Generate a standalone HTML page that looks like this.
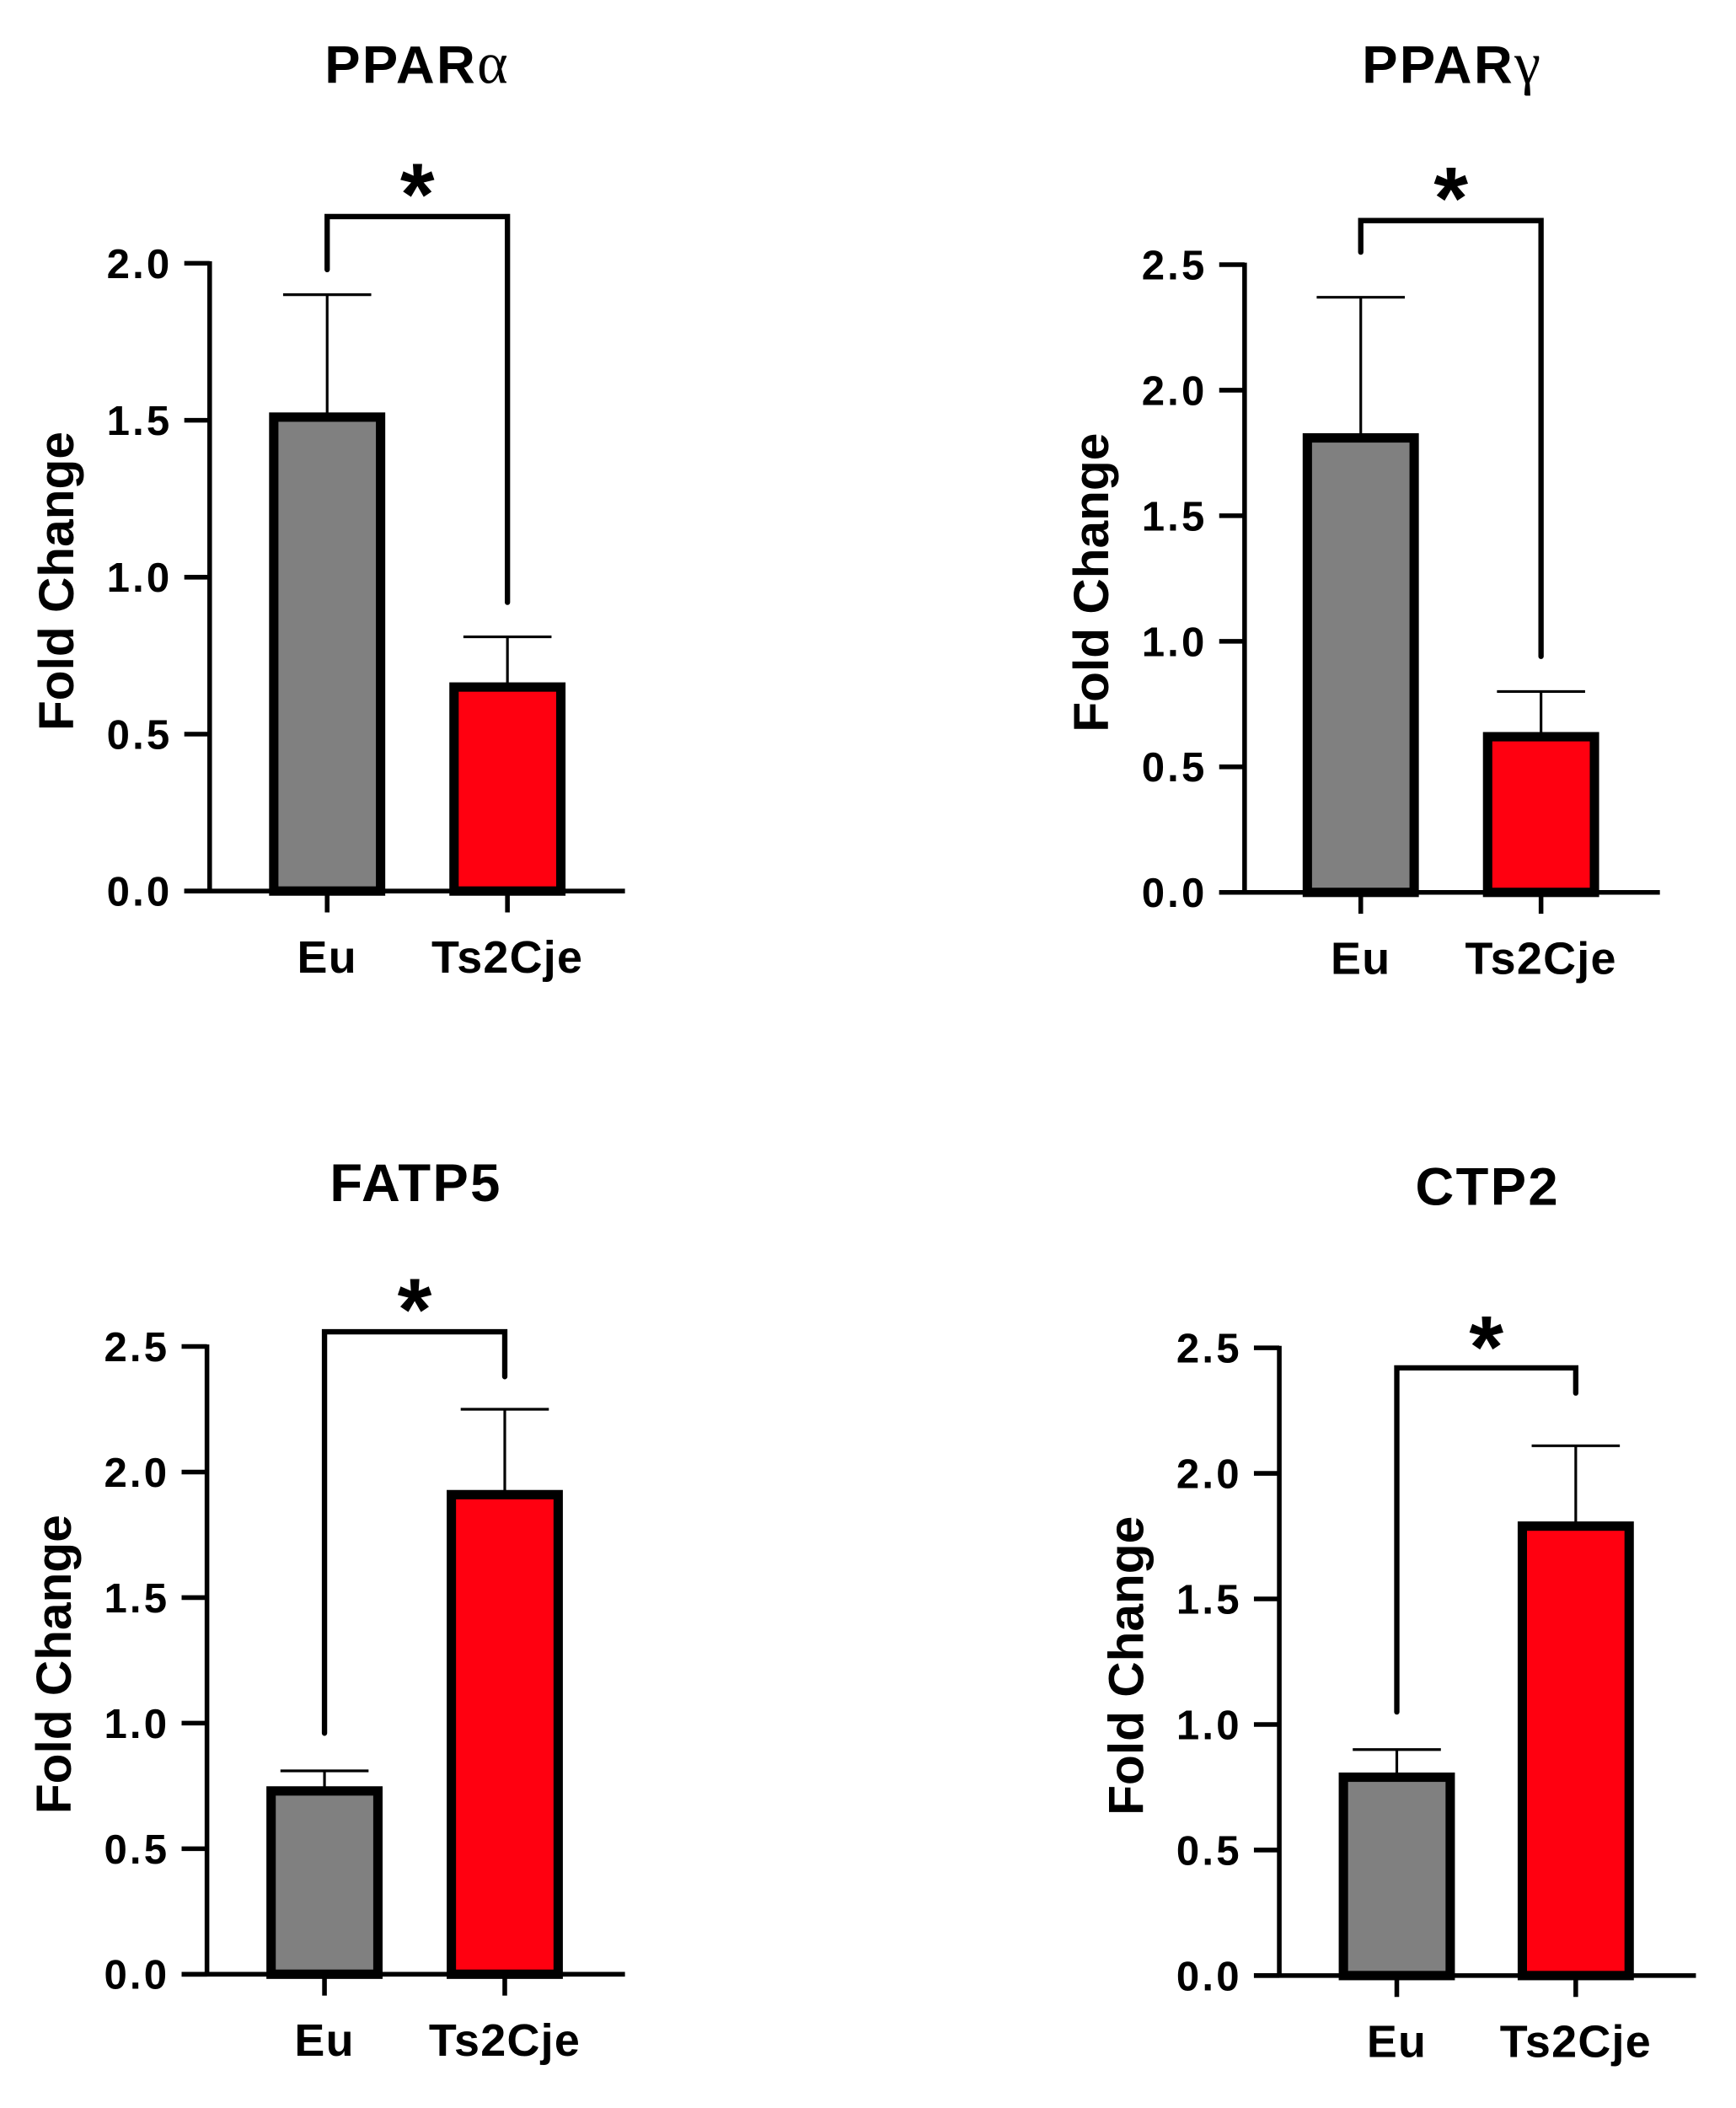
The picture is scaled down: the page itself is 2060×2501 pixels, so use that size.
<!DOCTYPE html>
<html><head><meta charset="utf-8"><style>
html,body{margin:0;padding:0;background:#fff;}
svg{display:block;font-family:"Liberation Sans",Arial,sans-serif;}
</style></head><body>
<svg id="fig" width="2060" height="2501" viewBox="0 0 1300 1578" xmlns="http://www.w3.org/2000/svg"></svg>
<script>
const categories = ["Eu", "Ts2Cje"];
const titles = ["PPAR", "PPAR", "FATP5", "CTP2"];
const greek = ["α", "γ", "", ""];
const meansA = [1.51, 0.65];
const errA = [1.90, 0.81];
const meansG = [1.81, 0.62];
const errG = [2.37, 0.80];
const meansF = [0.73, 1.91];
const errF = [0.81, 2.25];
const meansC = [0.79, 1.79];
const errC = [0.90, 2.11];
const ticksA = ["0.0", "0.5", "1.0", "1.5", "2.0"];
const ticksB = ["0.0", "0.5", "1.0", "1.5", "2.0", "2.5"];
const bracketDrops = [[1.98, 0.92], [2.55, 0.94], [0.96, 2.38], [1.05, 2.32]];

const NS = "http://www.w3.org/2000/svg";
const svg = document.getElementById("fig");
function mk(tag, attrs, parent) {
  const e = document.createElementNS(NS, tag);
  for (const k in attrs) e.setAttribute(k, attrs[k]);
  (parent || svg).appendChild(e);
  return e;
}
const panels = [
  {ax: 157, y0: 667, yTop: 197, xEnd: 468, c: [245, 380], title: 0, ty: 62, means: meansA, errs: errA, ticks: ticksA, bY: 162, starY: 146, ytx: 42},
  {ax: 932, y0: 668, yTop: 198, xEnd: 1243, c: [1019, 1154], title: 1, ty: 62, means: meansG, errs: errG, ticks: ticksB, bY: 165, starY: 149, ytx: 817},
  {ax: 155, y0: 1478, yTop: 1008, xEnd: 468, c: [243, 378], title: 2, ty: 899, means: meansF, errs: errF, ticks: ticksB, bY: 997, starY: 981, ytx: 40},
  {ax: 958, y0: 1479, yTop: 1009, xEnd: 1270, c: [1046, 1180], title: 3, ty: 902, means: meansC, errs: errC, ticks: ticksB, bY: 1024, starY: 1009, ytx: 843}
];
const colors = ["#808080", "#ff0010"];
panels.forEach((p, pi) => {
  const g = mk("g", {});
  
  
  const maxV = parseFloat(p.ticks[p.ticks.length - 1]);
  const y = v => p.y0 - (v / maxV) * (p.y0 - p.yTop);
  const t = mk("text", {x: (p.ax + p.xEnd) / 2, y: p.ty, "text-anchor": "middle", "font-size": 40, "font-weight": "bold", "letter-spacing": 1.5}, g);
  t.textContent = titles[p.title];
  if (greek[p.title]) {
    const ts = mk("tspan", {"font-family": "Liberation Serif, serif", "font-weight": "normal", "font-size": 44}, t);
    ts.textContent = greek[p.title];
  }
  
  
  categories.forEach((cat, i) => {
    const cx = p.c[i], w = 87;
    const eLine = mk("line", {x1: cx, x2: cx, y1: y(p.means[i]), y2: y(p.errs[i]), stroke: "#000", "stroke-width": 2}, g);
    
    
    const cap = mk("line", {x1: cx - 33, x2: cx + 33, y1: y(p.errs[i]), y2: y(p.errs[i]), stroke: "#000", "stroke-width": 2}, g);
    
    
    const r = mk("rect", {x: cx - w / 2 + 3.5, y: y(p.means[i]), width: w - 7, height: y(0) - y(p.means[i]), fill: colors[i], stroke: "#000", "stroke-width": 7}, g);
    
    
    const tk = mk("line", {x1: cx, x2: cx, y1: p.y0, y2: p.y0 + 16, stroke: "#000", "stroke-width": 3.5}, g);
    
    
    const lb = mk("text", {x: cx, y: p.y0 + 61, "text-anchor": "middle", "font-size": 34, "font-weight": "bold", "letter-spacing": 0.8}, g);
    lb.textContent = cat;
    
    
  });
  const yAx = mk("line", {x1: p.ax, x2: p.ax, y1: p.yTop - 1.5, y2: p.y0 + 1.5, stroke: "#000", "stroke-width": 3.5}, g);
  
  
  const xAx = mk("line", {x1: p.ax - 19, x2: p.xEnd, y1: p.y0, y2: p.y0, stroke: "#000", "stroke-width": 3.5}, g);
  
  
  p.ticks.forEach(tl => {
    const v = parseFloat(tl);
    const tk = mk("line", {x1: p.ax - 19, x2: p.ax, y1: y(v), y2: y(v), stroke: "#000", "stroke-width": 3.5}, g);
    
    
    const tx = mk("text", {x: p.ax - 28, y: y(v) + 11, "text-anchor": "end", "font-size": 31, "font-weight": "bold", "letter-spacing": 2}, g);
    tx.textContent = tl;
    
    
  });
  const cy = (p.y0 + p.yTop) / 2 + 3;
  const yt = mk("text", {x: p.ytx + 13, y: cy, "text-anchor": "middle", "font-size": 37, "font-weight": "bold", transform: `rotate(-90 ${p.ytx + 13} ${cy})`}, g);
  yt.textContent = "Fold Change";
  
  
  const d = bracketDrops[pi];
  const br = mk("path", {d: `M${p.c[0]} ${y(d[0])} L${p.c[0]} ${p.bY} L${p.c[1]} ${p.bY} L${p.c[1]} ${y(d[1])}`, fill: "none", stroke: "#000", "stroke-width": 4, "stroke-linecap": "round"}, g);
  
  
  const st = mk("text", {x: (p.c[0] + p.c[1]) / 2, y: p.starY + 22, "text-anchor": "middle", "font-size": 66, "font-weight": "bold"}, g);
  st.textContent = "*";
  
  
});
</script>
</body></html>
